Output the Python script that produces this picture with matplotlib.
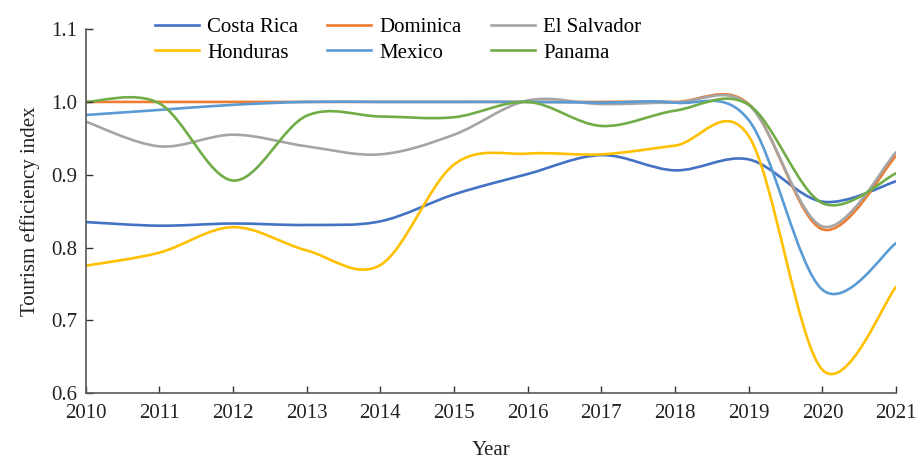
import numpy as np
import matplotlib.pyplot as plt
from matplotlib.path import Path
from matplotlib.patches import PathPatch
from matplotlib.lines import Line2D

plt.rcParams['font.family'] = ['Liberation Serif', 'DejaVu Serif']

years = [2010, 2011, 2012, 2013, 2014, 2015, 2016, 2017, 2018, 2019, 2020, 2021]

costa_rica = [0.835, 0.830, 0.833, 0.831, 0.836, 0.873, 0.901, 0.927, 0.906, 0.921, 0.863, 0.891]
dominica = [1.000, 1.000, 1.000, 1.000, 1.000, 1.000, 1.000, 1.000, 1.000, 0.997, 0.825, 0.926]
el_salvador = [0.973, 0.939, 0.955, 0.939, 0.928, 0.955, 1.002, 0.997, 0.999, 0.996, 0.829, 0.931]
honduras = [0.775, 0.793, 0.828, 0.796, 0.776, 0.914, 0.929, 0.928, 0.940, 0.953, 0.632, 0.746]
mexico = [0.982, 0.989, 0.996, 1.000, 1.000, 1.000, 1.000, 0.999, 0.999, 0.975, 0.742, 0.806]
panama = [1.000, 0.998, 0.892, 0.981, 0.980, 0.979, 1.000, 0.967, 0.988, 0.996, 0.861, 0.902]

series = {
    'Costa Rica': costa_rica,
    'Dominica': dominica,
    'El Salvador': el_salvador,
    'Honduras': honduras,
    'Mexico': mexico,
    'Panama': panama,
}
colors = {
    'Costa Rica': '#4472C4',
    'Dominica': '#ED7D31',
    'El Salvador': '#A5A5A5',
    'Honduras': '#FFC000',
    'Mexico': '#5B9BD5',
    'Panama': '#70AD47',
}


def smooth_path(x, y):
    # Catmull-Rom style bezier, like Excel's "smoothed line"
    pts = np.column_stack([x, y]).astype(float)
    ext = np.vstack([pts[0], pts, pts[-1]])
    verts = [pts[0]]
    codes = [Path.MOVETO]
    for i in range(len(pts) - 1):
        p0, p1, p2, p3 = ext[i], ext[i + 1], ext[i + 2], ext[i + 3]
        c1 = p1 + (p2 - p0) / 6
        c2 = p2 - (p3 - p1) / 6
        verts += [c1, c2, p2]
        codes += [Path.CURVE4] * 3
    return Path(verts, codes)


fig = plt.figure(figsize=(9.21, 4.62), dpi=100)
ax = fig.add_axes([0.093, 0.149, 0.880, 0.788])

handles = {}
for name, vals in series.items():
    patch = PathPatch(smooth_path(years, vals), facecolor='none',
                      edgecolor=colors[name], lw=1.9, capstyle='round')
    ax.add_patch(patch)
    handles[name] = Line2D([], [], color=colors[name], lw=1.9, label=name)

ax.set_xlim(2010, 2021)
ax.set_ylim(0.6, 1.1)
ax.set_xticks(years)
ax.set_yticks([0.6, 0.7, 0.8, 0.9, 1.0, 1.1])
ax.set_yticklabels(['0.6', '0.7', '0.8', '0.9', '1.0', '1.1'])
ax.tick_params(direction='in', length=5, width=1, colors='#333333',
               labelsize=15, labelcolor='#222222')
ax.tick_params(axis='x', pad=8)
ax.tick_params(axis='y', pad=6)
for s in ['top', 'right']:
    ax.spines[s].set_visible(False)
for s in ['left', 'bottom']:
    ax.spines[s].set_color('#595959')
    ax.spines[s].set_linewidth(1.2)

ax.set_xlabel('Year', fontsize=15, color='#222222', labelpad=13)
ax.set_ylabel('Tourism efficiency index', fontsize=15, color='#222222', labelpad=8)

# legend is filled column by column, so order it to read row by row
order = ['Costa Rica', 'Honduras', 'Dominica', 'Mexico', 'El Salvador', 'Panama']
fig.legend(handles=[handles[n] for n in order], ncol=3, loc='upper left',
           bbox_to_anchor=(0.157, 0.985), frameon=False, fontsize=15,
           handlelength=2.1, handletextpad=0.4, columnspacing=1.4,
           labelspacing=0.3, borderpad=0)

fig.savefig('out.png', dpi=100)
